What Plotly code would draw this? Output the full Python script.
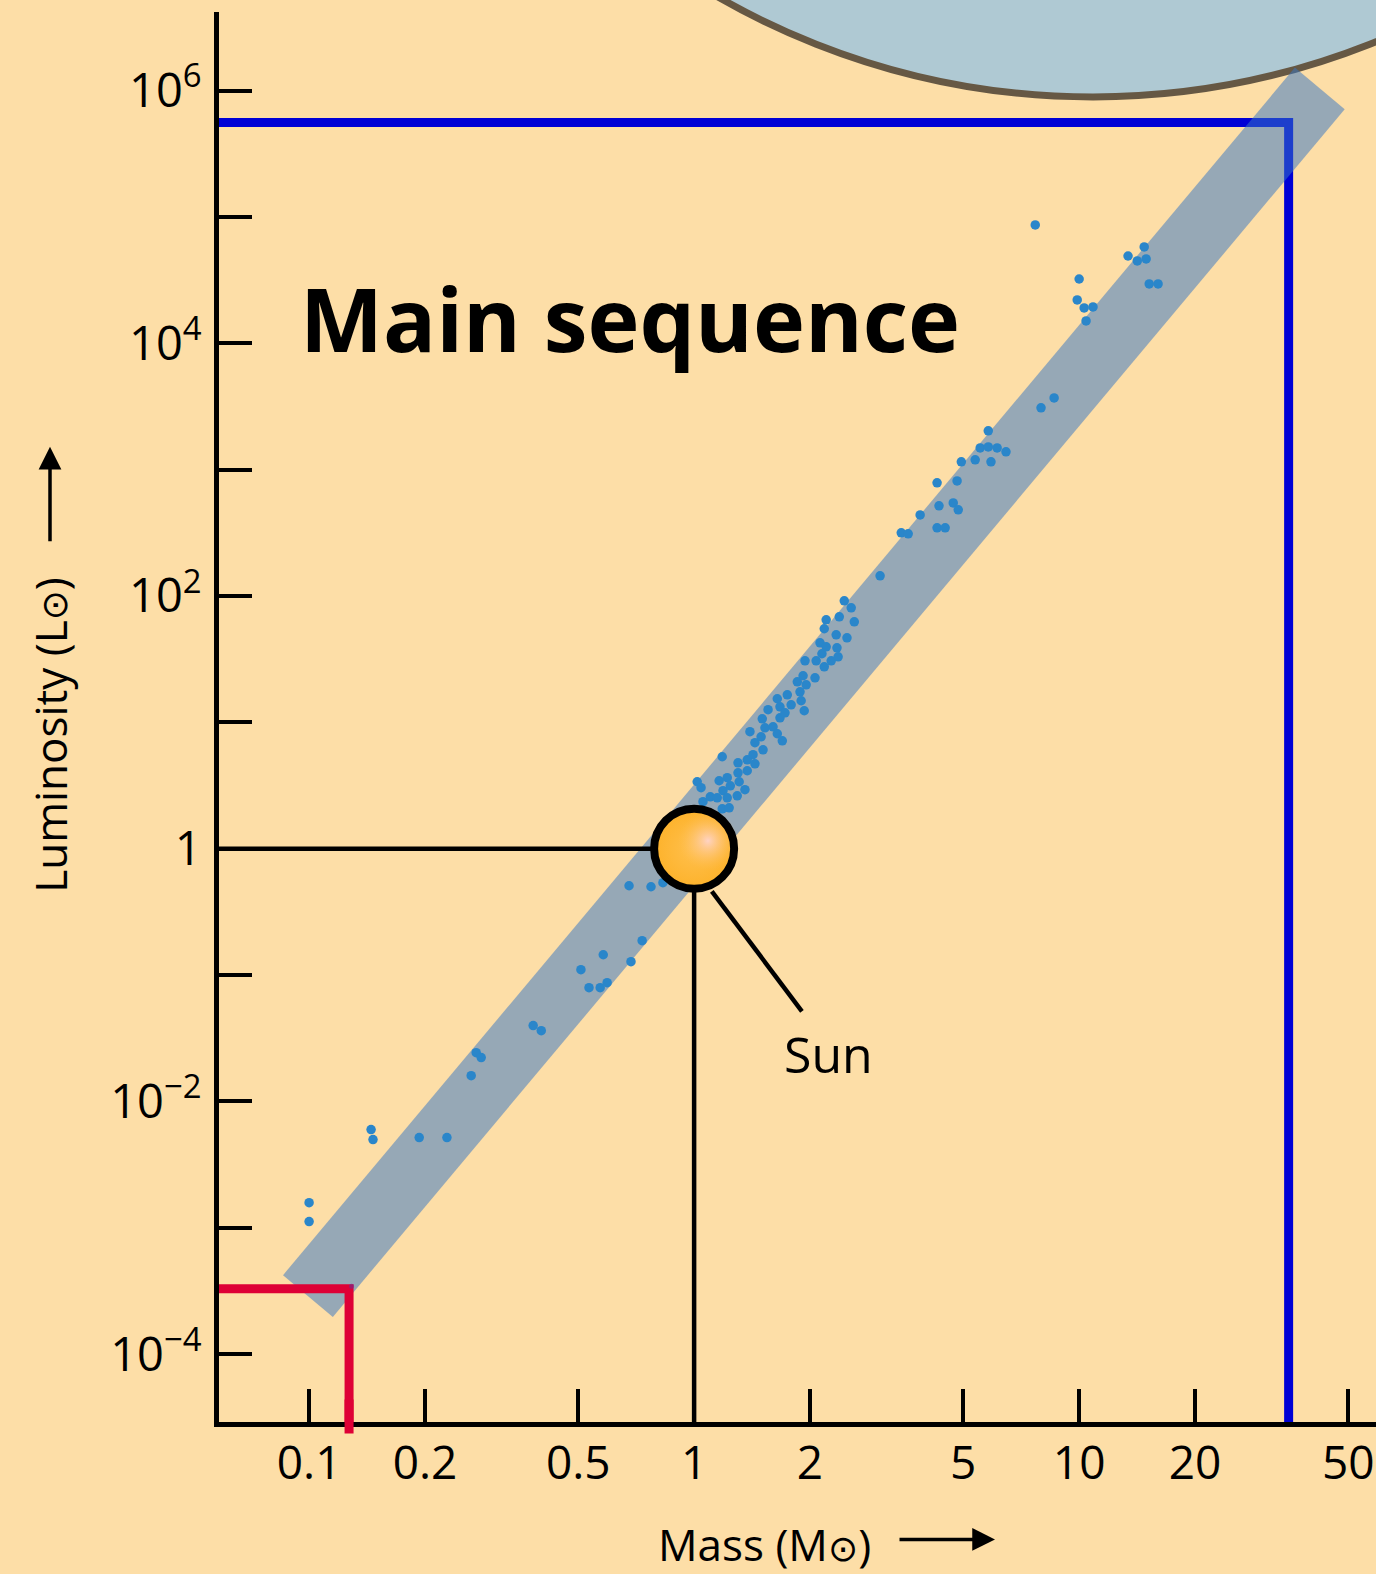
import numpy as np
import plotly.graph_objects as go

# ---------------- data ----------------
mass_ticks = [0.1, 0.2, 0.5, 1, 2, 5, 10, 20, 50]
mass_tick_labels = ["0.1", "0.2", "0.5", "1", "2", "5", "10", "20", "50"]
lum_ticks = [1e-4, 1e-3, 1e-2, 1e-1, 1, 1e1, 1e2, 1e3, 1e4, 1e5, 1e6]
lum_tick_labels = ["10<sup>\u22124</sup>", "", "10<sup>\u22122</sup>", "", "1", "",
                   "10<sup>2</sup>", "", "10<sup>4</sup>", "", "10<sup>6</sup>"]

# stars (log10 of mass in solar masses, log10 of luminosity in solar luminosities)
star_log_mass = [
    -1.000, -1.000, -0.839, -0.834, -0.714, -0.642, -0.566, -0.553, -0.579, -0.418,
    -0.397, -0.294, -0.273, -0.244, -0.226, -0.236, -0.164, -0.135, -0.169, -0.112,
    -0.081, 0.008, 0.018, 0.023, 0.042, 0.060, 0.065, 0.073, 0.091, 0.075,
    0.086, 0.086, 0.094, 0.112, 0.114, 0.117, 0.132, 0.138, 0.114, 0.138,
    0.158, 0.073, 0.153, 0.158, 0.179, 0.145, 0.174, 0.184, 0.205, 0.216,
    0.229, 0.177, 0.192, 0.223, 0.216, 0.223, 0.236, 0.242, 0.252, 0.268,
    0.275, 0.278, 0.286, 0.283, 0.291, 0.314, 0.288, 0.317, 0.338, 0.356,
    0.332, 0.327, 0.343, 0.371, 0.374, 0.369, 0.397, 0.338, 0.343, 0.377,
    0.416, 0.390, 0.408, 0.483, 0.538, 0.556, 0.587, 0.631, 0.652, 0.636,
    0.673, 0.686, 0.631, 0.683, 0.694, 0.730, 0.771, 0.743, 0.764, 0.787,
    0.810, 0.764, 0.901, 0.935, 0.886, 1.000, 0.995, 1.013, 1.036, 1.018,
    1.127, 1.169, 1.151, 1.174, 1.182, 1.205,
]
star_log_lum = [
    -2.801, -2.951, -2.223, -2.302, -2.286, -2.286, -1.614, -1.653, -1.796, -1.400,
    -1.440, -0.957, -1.100, -1.100, -1.060, -0.839, -0.894, -0.728, -0.293, -0.301,
    -0.269, 0.530, 0.483, 0.372, 0.411, 0.403, 0.538, 0.316, 0.324, 0.459,
    0.562, 0.403, 0.498, 0.419, 0.601, 0.530, 0.467, 0.617, 0.680, 0.704,
    0.672, 0.728, 0.744, 0.839, 0.783, 0.926, 0.886, 0.957, 0.965, 0.910,
    0.854, 1.028, 1.100, 1.036, 1.187, 1.123, 1.076, 1.218, 1.139, 1.321,
    1.242, 1.171, 1.092, 1.369, 1.297, 1.353, 1.487, 1.487, 1.440, 1.487,
    1.543, 1.630, 1.598, 1.590, 1.519, 1.693, 1.669, 1.741, 1.812, 1.835,
    1.796, 1.962, 1.907, 2.160, 2.500, 2.492, 2.642, 2.540, 2.540, 2.714,
    2.737, 2.682, 2.896, 2.911, 3.062, 3.078, 3.062, 3.172, 3.180, 3.172,
    3.141, 3.307, 3.489, 3.568, 4.937, 4.509, 4.343, 4.280, 4.288, 4.177,
    4.691, 4.763, 4.652, 4.668, 4.470, 4.470,
]

# main-sequence band (centre line ends, log10 values)
band_log_mass = [-1.003, 1.625]
band_log_lum = [-3.540, 6.017]

# reference stars
sun_mass, sun_lum = 1.0, 1.0
max_star_mass, max_star_lum = 35.0, 5.6e5
min_star_mass, min_star_lum = 0.127, 3.3e-4
sun_pointer_log_mass = [0.046, 0.280]
sun_pointer_log_lum = [-0.338, -1.287]

# axis extents (log10)
x_range = [-1.234, 1.771]
y_range = [-4.537, 6.622]

# ---------------- figure ----------------
BG = "#FDDEA7"
W, H = 1376, 1574
ML, MR, MT, MB = 219, 0, 12, 151.5
PW, PH = W - ML - MR, H - MT - MB


def px(xp):
    return (xp - ML) / PW


def py(yp):
    return (H - MB - yp) / PH


xl = 10 ** x_range[0]
yb = 10 ** y_range[0]

fig = go.Figure()

# blue (most massive) guide lines
fig.add_trace(go.Scatter(
    x=[xl, max_star_mass, max_star_mass], y=[max_star_lum, max_star_lum, yb],
    mode="lines", line=dict(color="#0000D6", width=9), hoverinfo="skip"))

# main sequence band
fig.add_trace(go.Scatter(
    x=10 ** np.array(band_log_mass), y=10 ** np.array(band_log_lum),
    mode="lines", line=dict(color="rgba(55,118,195,0.52)", width=65),
    hoverinfo="skip"))

# sun guide lines
fig.add_trace(go.Scatter(
    x=[xl, sun_mass, sun_mass], y=[sun_lum, sun_lum, yb],
    mode="lines", line=dict(color="black", width=4.5), hoverinfo="skip"))

# red (least massive) guide lines
fig.add_trace(go.Scatter(
    x=[xl, min_star_mass, min_star_mass], y=[min_star_lum, min_star_lum, yb],
    mode="lines", line=dict(color="#DE0036", width=9), hoverinfo="skip"))
fig.add_shape(type="line", xref="x", yref="paper",
              x0=min_star_mass, x1=min_star_mass, y0=py(1434), y1=py(1400),
              line=dict(color="#DE0036", width=9), layer="above")

# stars
fig.add_trace(go.Scatter(
    x=10 ** np.array(star_log_mass), y=10 ** np.array(star_log_lum),
    mode="markers", marker=dict(color="#2A86CA", size=9.5, line=dict(width=0)),
    hoverinfo="skip"))

# pointer line to label
fig.add_trace(go.Scatter(
    x=10 ** np.array(sun_pointer_log_mass), y=10 ** np.array(sun_pointer_log_lum),
    mode="lines", line=dict(color="black", width=4.5), hoverinfo="skip"))

# the Sun
fig.add_trace(go.Scatter(
    x=[sun_mass], y=[sun_lum], mode="markers",
    marker=dict(color="#FDB22A", size=82, line=dict(width=0),
                gradient=dict(type="radial", color="#FFC04E")),
    hoverinfo="skip"))
fig.add_trace(go.Scatter(
    x=[sun_mass * 10 ** 0.036], y=[sun_lum * 10 ** 0.063], mode="markers",
    marker=dict(color="rgba(254,190,80,0)", size=60, line=dict(width=0),
                gradient=dict(type="radial", color="#FFD3C4")),
    hoverinfo="skip"))
fig.add_trace(go.Scatter(
    x=[sun_mass], y=[sun_lum], mode="markers",
    marker=dict(color="rgba(0,0,0,0)", size=80, line=dict(width=8, color="black")),
    hoverinfo="skip"))

# big disc at top right
fig.add_shape(type="circle", xref="paper", yref="paper",
              x0=px(1093 - 752), x1=px(1093 + 752), y0=py(97), y1=py(97 - 1504),
              fillcolor="#AFC9D3", line=dict(color="#665844", width=7), layer="below")

# star at the red corner
fig.add_shape(type="circle", xref="x", yref="y", xsizemode="pixel", ysizemode="pixel",
              xanchor=min_star_mass, yanchor=min_star_lum, x0=-5, x1=5, y0=-5, y1=5,
              fillcolor="rgba(120,40,140,0.6)", line=dict(width=0), layer="above")

FONT = "Open Sans, Noto Sans, DejaVu Sans, sans-serif"
SUN = "<span style='font-size:36px'>\u2299</span>"

fig.add_annotation(text="<b>Main sequence</b>", xref="paper", yref="paper",
                   x=px(630), y=py(318), xanchor="center", yanchor="middle",
                   showarrow=False, font=dict(family=FONT, size=88, color="black"))
fig.add_annotation(text="Sun", xref="paper", yref="paper",
                   x=px(828), y=py(1054), xanchor="center", yanchor="middle",
                   showarrow=False, font=dict(family=FONT, size=50, color="black"))

# axis titles
fig.add_annotation(text="Luminosity (L" + SUN + ")", xref="paper", yref="paper",
                   x=px(50), y=py(735), textangle=-90, xanchor="center", yanchor="middle",
                   showarrow=False, font=dict(family=FONT, size=44, color="black"))
fig.add_annotation(text="", xref="paper", yref="paper", x=px(50), y=py(447),
                   ax=0, ay=96, showarrow=True, arrowhead=2, arrowsize=1.3,
                   arrowwidth=3.5, arrowcolor="black")
fig.add_annotation(text="Mass (M" + SUN + ")", xref="paper", yref="paper",
                   x=px(764), y=py(1545), xanchor="center", yanchor="middle",
                   showarrow=False, font=dict(family=FONT, size=44, color="black"))
fig.add_annotation(text="", xref="paper", yref="paper", x=px(995), y=py(1540),
                   ax=-97, ay=0, showarrow=True, arrowhead=2, arrowsize=1.3,
                   arrowwidth=3.5, arrowcolor="black")

fig.update_xaxes(type="log", range=x_range, showgrid=False, zeroline=False,
                 showline=True, linecolor="black", linewidth=5,
                 ticks="inside", ticklen=33, tickwidth=4, tickcolor="black",
                 tickvals=mass_ticks, ticktext=mass_tick_labels,
                 tickfont=dict(family=FONT, size=46, color="black"),
                 ticklabelstandoff=-3)
fig.update_yaxes(type="log", range=y_range, showgrid=False, zeroline=False,
                 showline=True, linecolor="black", linewidth=5,
                 ticks="inside", ticklen=33, tickwidth=4, tickcolor="black",
                 tickvals=lum_ticks, ticktext=lum_tick_labels,
                 tickfont=dict(family=FONT, size=47, color="black"),
                 ticklabelstandoff=3)

fig.update_layout(width=W, height=H, margin=dict(l=ML, r=MR, t=MT, b=MB),
                  paper_bgcolor=BG, plot_bgcolor="rgba(0,0,0,0)",
                  showlegend=False)

fig.write_html("out.html")
